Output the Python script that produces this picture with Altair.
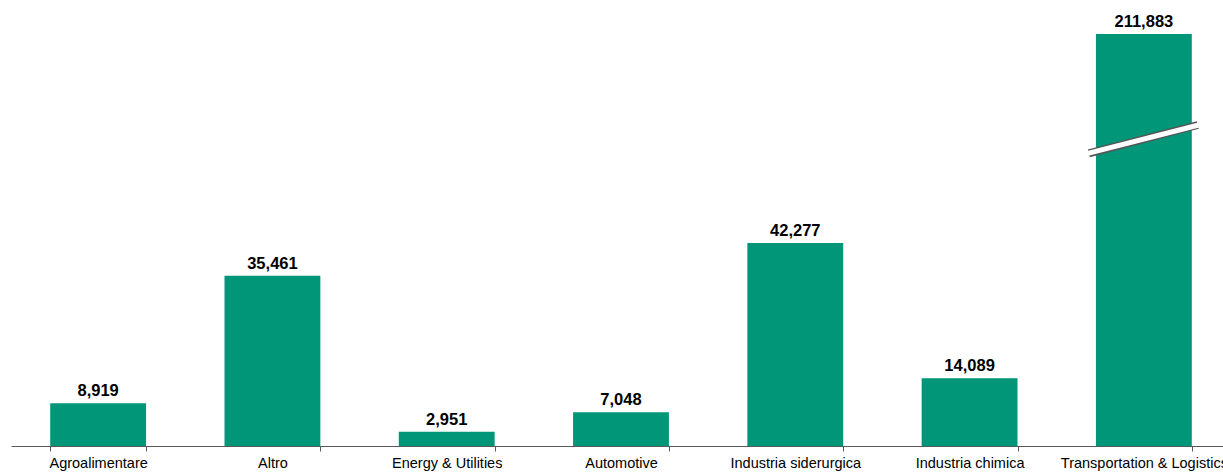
import altair as alt
import pandas as pd

categories = ["Agroalimentare", "Altro", "Energy & Utilities", "Automotive",
              "Industria siderurgica", "Industria chimica", "Transportation & Logistics"]
values = [8919, 35461, 2951, 7048, 42277, 14089, 211883]
# the last bar is drawn on a broken axis: its drawn height is capped
display_values = [8919, 35461, 2951, 7048, 42277, 14089, 85833]
labels = [f"{v:,}" for v in values]

y_max = 90833
break_category = ["Transportation & Logistics"]
break_y_start = [60979]
break_y_end = [66875]

df = pd.DataFrame({"cat": categories, "value": values, "shown": display_values, "label": labels})
brk = pd.DataFrame({"cat": break_category, "y1": break_y_start, "y2": break_y_end})

FONT = "Liberation Sans"
GREEN = "#009677"

x_enc = alt.X(
    "cat:N",
    sort=categories,
    title=None,
    scale=alt.Scale(paddingInner=0.45, paddingOuter=0.225, range=[0, 1220]),
    axis=alt.Axis(
        labelAngle=0, labelFont=FONT, labelFontSize=14.5, labelColor="#000000",
        tickBand="extent", tickSize=5, tickColor="#595959", domainColor="#595959",
        labelPadding=5, grid=False, labelLimit=400,
    ),
)
y_scale = alt.Scale(domain=[0, y_max])

bars = alt.Chart(df).mark_bar(color=GREEN).encode(
    x=x_enc,
    y=alt.Y("shown:Q", scale=y_scale, axis=None),
)

text = alt.Chart(df).mark_text(
    font=FONT, fontSize=16.5, fontWeight="bold", color="#000000",
    baseline="alphabetic", dy=-7,
).encode(
    x=alt.X("cat:N", sort=categories),
    y=alt.Y("shown:Q", scale=y_scale),
    text="label:N",
)

break_dark = alt.Chart(brk).mark_rule(
    color="#555555", strokeWidth=8, strokeCap="butt", xOffset=-55, x2Offset=54,
).encode(
    x=alt.X("cat:N", sort=categories),
    x2="cat:N",
    y=alt.Y("y1:Q", scale=y_scale),
    y2="y2:Q",
)
break_white = alt.Chart(brk).mark_rule(
    color="#ffffff", strokeWidth=5, strokeCap="butt", xOffset=-56, x2Offset=55,
).encode(
    x=alt.X("cat:N", sort=categories),
    x2="cat:N",
    y=alt.Y("y1:Q", scale=y_scale),
    y2="y2:Q",
)

chart = alt.layer(bars, text, break_dark, break_white).properties(
    width=1212,
    height=436,
    background="#ffffff",
    autosize=alt.AutoSizeParams(type="none"),
    padding={"left": 11, "top": 10, "right": 0, "bottom": 27},
).configure_view(strokeWidth=0, stroke="transparent")

chart.save("out.html", embed_options={"renderer": "svg", "actions": False})
